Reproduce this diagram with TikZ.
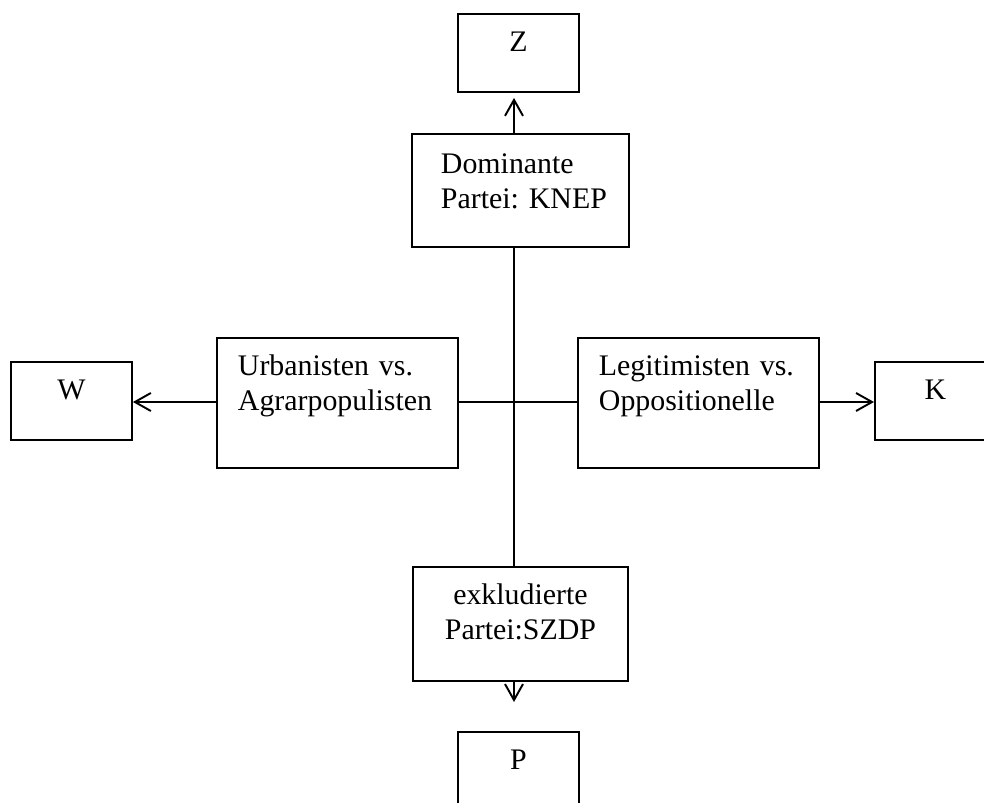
\documentclass[tikz,border=0pt]{standalone}
\usepackage{fontspec}
\setmainfont{Liberation Serif}
\usetikzlibrary{arrows.meta}
\begin{document}
\begin{tikzpicture}[x=.02cm,y=-.02cm,
    box/.style={draw,line width=1.1pt,anchor=north west,inner ysep=0pt,
      font=\fontsize{17pt}{19.9pt}\selectfont},
    letterbox/.style={box,inner xsep=0pt,text width=2.42cm,align=center,
      text height=.76cm,text depth=.8cm},
    widebox/.style={box,inner xsep=.42cm,text width=3.98cm,align=left,
      text height=.76cm,text depth=1.84cm},
    pfeil/.style={line width=1.1pt,-{Straight Barb[length=.32cm,width=.36cm]}}]
    \useasboundingbox (0,0) rectangle (984,803);
    \coordinate (axis) at (514,402);
    \node[letterbox] (z) at (457,13) {Z};
    \node[box,inner xsep=.58cm,text width=3.18cm,align=left,
      text height=.8cm,text depth=1.46cm] (dom) at (411,133) {Dominante\\Partei:~KNEP};
    \node[widebox] (urb) at (216,337) {Urbanisten vs.\\Agrarpopulisten};
    \node[widebox] (leg) at (577,337) {Legitimisten vs.\\Oppositionelle};
    \node[letterbox] (w) at (10,361) {W};
    \node[letterbox] (k) at (874,361) {K};
    \node[box,inner xsep=0pt,text width=4.3cm,align=center,
      text height=.76cm,text depth=1.52cm] (exk) at (412,566) {exkludierte\\Partei:SZDP};
    \node[letterbox] (p) at (457,731) {P};
    \draw[line width=1.1pt] (dom.south -| axis) -- (exk.north -| axis);
    \draw[line width=1.1pt] (urb.east |- axis) -- (leg.west |- axis);
    \draw[pfeil,shorten >=.1cm] (dom.north -| axis) -- (z.south -| axis);
    \draw[pfeil,shorten >=.58cm] (exk.south -| axis) -- (p.north -| axis);
    \draw[pfeil] (urb.west |- axis) -- (w.east |- axis);
    \draw[pfeil] (leg.east |- axis) -- (k.west |- axis);
\end{tikzpicture}
\end{document}
